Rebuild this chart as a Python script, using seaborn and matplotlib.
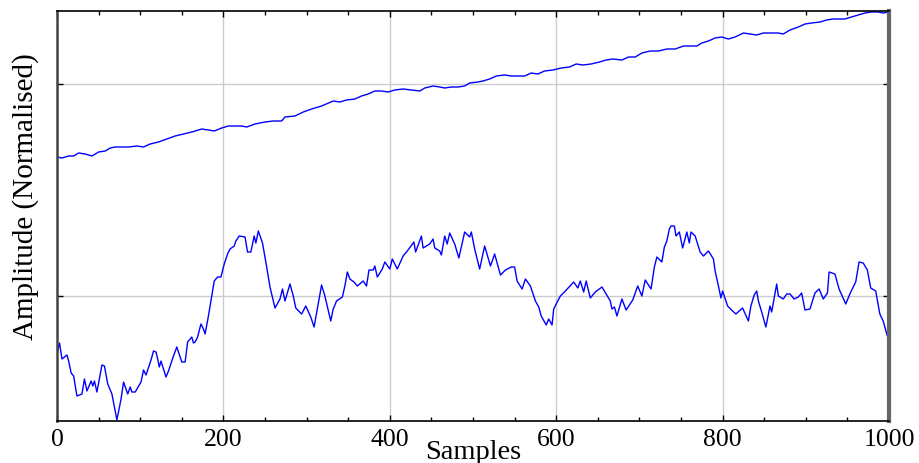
import matplotlib
matplotlib.use("Agg")
import numpy as np
import pandas as pd
import seaborn as sns
import matplotlib.pyplot as plt
from matplotlib.ticker import MultipleLocator, FixedLocator, NullFormatter

# ---------------- data ----------------
top_samples = [0, 6, 14, 20, 26, 34, 42, 50, 58, 64,
               70, 78, 86, 96, 104, 112, 122, 132, 142, 152,
               162, 174, 182, 189, 198, 206, 216, 222, 228, 238,
               250, 260, 270, 274, 286, 296, 306, 318, 332, 340,
               348, 358, 366, 374, 382, 390, 398, 406, 416, 426,
               436, 442, 452, 460, 466, 474, 482, 490, 496, 506,
               512, 520, 528, 538, 546, 554, 562, 570, 578, 586,
               596, 606, 616, 624, 632, 642, 652, 660, 668, 679,
               687, 695, 703, 713, 723, 733, 743, 753, 763, 769,
               775, 783, 791, 799, 807, 815, 825, 833, 841, 849,
               859, 867, 873, 881, 891, 899, 907, 917, 925, 933,
               941, 947, 955, 963, 971, 979, 987, 993, 1000]
top_values = [264, 263, 265, 265, 268, 267, 265, 269, 270, 273,
              274, 274, 274, 275, 274, 277, 279, 282, 285, 287,
              289, 292, 291, 290, 293, 295, 295, 295, 294, 297,
              299, 300, 300, 304, 305, 309, 312, 315, 320, 319,
              321, 322, 325, 327, 330, 330, 329, 331, 332, 331,
              330, 333, 335, 334, 333, 334, 334, 335, 338, 339,
              340, 342, 345, 346, 345, 345, 345, 348, 347, 350,
              351, 353, 354, 357, 356, 357, 359, 361, 362, 361,
              364, 364, 368, 370, 370, 372, 372, 375, 375, 375,
              378, 380, 383, 384, 382, 384, 388, 387, 386, 388,
              388, 388, 387, 391, 394, 397, 398, 399, 401, 402,
              402, 402, 404, 406, 408, 409, 409, 408, 409]

bottom_samples = [0, 3, 6, 12, 14, 17, 20, 24, 30, 33, 36, 39, 41, 43, 45, 48,
                  54, 57, 61, 66, 72, 77, 80, 85, 88, 90, 94, 101, 104, 107,
                  113, 116, 119, 121, 123, 125, 131, 134, 140, 144, 150, 154,
                  157, 162, 164,
                  166, 169, 173, 176, 178, 182, 186, 189, 193, 197, 201, 205,
                  208, 213, 215, 219, 226, 229, 233, 237, 239, 242, 247, 251,
                  256, 262, 268, 271, 274, 280, 284, 287, 294, 299, 305, 309,
                  318, 322, 329, 332,
                  336, 343, 346, 349, 352, 357, 361, 368, 372, 375, 380, 382,
                  385, 391, 394, 400, 403, 409, 416, 421, 429, 431, 438, 440,
                  448, 452, 454, 460, 462, 466, 469, 472, 478, 483, 490, 496,
                  498, 502,
                  508, 514, 521, 526, 530, 533, 539, 546, 550, 553, 559, 563,
                  569, 575, 579, 582, 588, 591, 595, 597, 600, 605, 611, 621,
                  626, 629, 633, 636, 641, 647, 655, 665, 667, 670,
                  673, 679, 684, 692, 698, 703, 707, 714, 718, 721, 727, 730,
                  733, 736, 738, 742, 744, 748, 752, 757, 760, 762, 767, 773,
                  777, 783, 789, 791, 795, 798, 800, 806, 812, 816, 824, 831,
                  834, 838,
                  841, 843, 847, 852, 857, 859, 865, 867, 873, 877, 881, 886,
                  891, 895, 899, 905, 911, 916, 921, 926, 928, 935, 940, 948,
                  954, 960, 964, 969, 974, 978, 984, 989, 993, 998, 1000]
bottom_values = [67, 78, 62, 66, 60, 48, 45, 25, 27, 42, 30, 36, 40, 35, 40, 29,
                 56, 55, 37, 27, 1, 22, 39, 27, 34, 29, 29, 39, 51, 46,
                 61, 70, 69, 62, 54, 60, 44, 50, 65, 74, 59, 59,
                 79, 84, 78,
                 79, 84, 97, 92, 87, 105, 125, 140, 144, 144, 157, 167,
                 172, 175, 180, 185, 184, 169, 169, 185, 178, 190, 178, 159,
                 134, 113, 122, 132, 120, 137, 125, 113, 107, 115, 104, 94,
                 136, 125, 100, 112,
                 120, 124, 135, 149, 142, 139, 135, 140, 135, 151, 151, 155,
                 144, 152, 159, 152, 162, 152, 165, 170, 179, 169, 185, 173,
                 177, 182, 173, 170, 166, 185, 177, 188, 177, 163, 189, 184,
                 189, 172,
                 152, 175, 155, 167, 155, 146, 151, 154, 154, 140, 132, 142,
                 135, 120, 114, 105, 96, 102, 96, 112, 117, 125, 130, 139,
                 133, 140, 129, 140, 123, 129, 134, 120, 112, 114,
                 105, 122, 111, 121, 135, 125, 141, 132, 154, 164, 159, 174,
                 180, 192, 195, 195, 185, 189, 173, 189, 178, 189, 185, 169,
                 165, 170, 162, 150, 135, 123, 130, 115, 110, 107, 113, 100,
                 115, 126,
                 130, 120, 109, 94, 115, 109, 137, 125, 122, 127, 127, 122,
                 124, 128, 111, 112, 128, 132, 122, 128, 149, 147, 132, 117,
                 129, 139, 159, 158, 151, 133, 130, 107, 100, 85, 92]

x_ticks = [0, 200, 400, 600, 800, 1000]
x_tick_labels = ["0", "200", "400", "600", "800", "1000"]
y_grid_levels = [125, 337]

# ---------------- styling ----------------
sns.set_theme(style="white")
plt.rcParams["font.family"] = ["Liberation Serif", "DejaVu Serif"]

fig = plt.figure(figsize=(9.19, 4.64), dpi=100)
ax = fig.add_axes([57 / 919, 42 / 464, 832 / 919, 410 / 464])

df_top = pd.DataFrame({"Samples": top_samples, "Amplitude": top_values})
df_bot = pd.DataFrame({"Samples": bottom_samples, "Amplitude": bottom_values})

sns.lineplot(data=df_top, x="Samples", y="Amplitude", ax=ax, color="#0000ff",
             linewidth=1.0, estimator=None, sort=False)
sns.lineplot(data=df_bot, x="Samples", y="Amplitude", ax=ax, color="#0000ff",
             linewidth=1.0, estimator=None, sort=False)

ax.set_xlim(0, 1000)
ax.set_ylim(0, 410)

ax.xaxis.set_major_locator(FixedLocator(x_ticks))
ax.set_xticklabels(x_tick_labels)
ax.xaxis.set_minor_locator(MultipleLocator(50))
ax.yaxis.set_major_locator(FixedLocator(y_grid_levels))
ax.yaxis.set_major_formatter(NullFormatter())

ax.grid(True, which="major", color="#cccccc", linewidth=1.0)
ax.set_axisbelow(True)

ax.tick_params(axis="both", which="both", direction="in", top=True, right=True,
               color="black", bottom=True, left=True)
ax.tick_params(axis="both", which="major", length=4, width=1)
ax.tick_params(axis="x", which="minor", length=3, width=1)
ax.tick_params(axis="x", which="major", labelsize=18.5, pad=5, labelcolor="black")

for side in ("top", "bottom"):
    ax.spines[side].set_color("black")
    ax.spines[side].set_linewidth(1.2)
ax.spines["left"].set_color("#444444")
ax.spines["left"].set_linewidth(1.8)
ax.spines["right"].set_color("#666666")
ax.spines["right"].set_linewidth(3)

ax.set_xlabel("Samples", fontsize=20.5, color="black")
ax.set_ylabel("Amplitude (Normalised)", fontsize=21, color="black")
ax.xaxis.set_label_coords(0.5, -0.043)
ax.yaxis.set_label_coords(-0.022, 0.549)

fig.savefig("out.png", dpi=100)
